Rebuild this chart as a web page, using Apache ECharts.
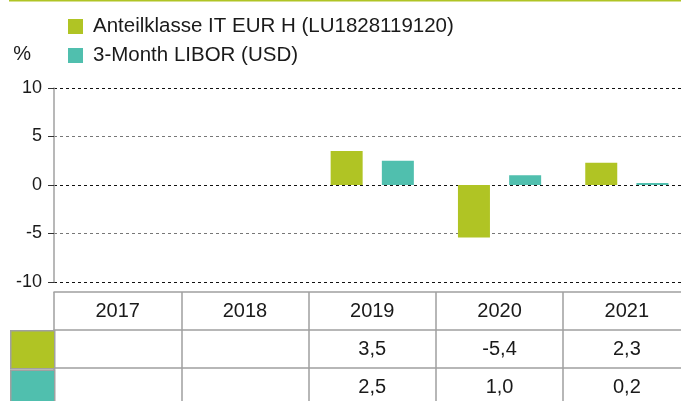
<!DOCTYPE html>
<html>
<head>
<meta charset="utf-8">
<style>
  html, body { margin: 0; padding: 0; background: #fff; }
  #chart { width: 681px; height: 401px; }
</style>
<script src="https://cdn.jsdelivr.net/npm/echarts@6/dist/echarts.min.js"></script>
</head>
<body>
<div id="chart"></div>
<script>
  // data
  const years = ['2017', '2018', '2019', '2020', '2021']
  const fundName = 'Anteilklasse IT EUR H (LU1828119120)'
  const liborName = '3-Month LIBOR (USD)'
  const fundValues = [null, null, 3.5, -5.4, 2.3]
  const liborValues = [null, null, 2.5, 1.0, 0.2]
  const yMin = -10
  const yMax = 10
  const yStep = 5

  const green = '#b0c424'
  const teal = '#50bfae'
  const border = '#a0a0a0'
  const font = 'Liberation Sans, Arial, sans-serif'

  // 3,5 style (german decimal comma)
  function fmt(v) {
    if (v === null || v === undefined) return ''
    return v.toFixed(1).replace('.', ',')
  }

  // one x axis per table row, stacked under the plot
  function rowAxis(offset, labelFn, ticks) {
    return {
      type: 'category',
      data: years,
      position: 'bottom',
      offset: offset,
      axisLine: { show: true, onZero: false, lineStyle: { color: border, width: 1.5 } },
      axisTick: {
        show: ticks,
        alignWithLabel: false,
        interval: 0,
        length: 112,
        lineStyle: { color: border, width: 1.5 }
      },
      axisLabel: {
        interval: 0,
        margin: 9,
        fontSize: 20,
        lineHeight: 20,
        color: '#1a1a1a',
        fontFamily: font,
        formatter: labelFn
      },
      splitLine: { show: false }
    }
  }

  let myChart = echarts.init(document.getElementById('chart'))
  myChart.setOption({
    animation: false,
    textStyle: { fontFamily: font },
    graphic: [{
      type: 'rect',
      left: 9, top: 0,
      shape: { width: 680, height: 1.5 },
      style: { fill: green }
    }],
    legend: [
      {
        // top legend
        data: [fundName, liborName],
        orient: 'vertical',
        left: 68,
        top: 16,
        padding: 0,
        itemWidth: 15,
        itemHeight: 15,
        itemGap: 8,
        icon: 'rect',
        selectedMode: false,
        textStyle: { fontSize: 20.5, lineHeight: 20, color: '#1a1a1a', padding: [0, 0, 0, 5] }
      },
      {
        // colour swatches left of the table rows
        data: [fundName, liborName],
        orient: 'vertical',
        left: 10,
        top: 330,
        height: 90,
        padding: 0,
        itemWidth: 44,
        itemHeight: 38,
        itemGap: 0,
        icon: 'rect',
        selectedMode: false,
        formatter: function () { return '' },
        itemStyle: { borderColor: border, borderWidth: 1.5 }
      }
    ],
    grid: {
      left: 54,
      top: 88,
      width: 636.5,
      bottom: 119,
      outerBoundsMode: 'none',
      containLabel: false
    },
    xAxis: [
      rowAxis(10, function (v) { return v }, true),
      rowAxis(48, function (v, i) { return fmt(fundValues[i]) }, false),
      rowAxis(86, function (v, i) { return fmt(liborValues[i]) }, false)
    ],
    yAxis: {
      type: 'value',
      min: yMin,
      max: yMax,
      interval: yStep,
      name: '%',
      nameLocation: 'end',
      nameGap: 24,
      nameTextStyle: { fontSize: 20, color: '#1a1a1a', align: 'right', padding: [0, 23, 0, 0] },
      axisLine: { show: true, lineStyle: { color: border, width: 1.5 } },
      axisTick: { show: true, length: 6, lineStyle: { color: '#333', width: 1 } },
      axisLabel: { fontSize: 18, color: '#1a1a1a', margin: 12 },
      splitLine: {
        show: true,
        lineStyle: {
          type: [3, 3],
          width: 1,
          color: ['#111', '#777', '#111', '#777', '#111']
        }
      }
    },
    series: [
      {
        name: fundName,
        type: 'bar',
        xAxisIndex: 0,
        data: fundValues,
        barWidth: 32,
        barGap: '60%',
        itemStyle: { color: green }
      },
      {
        name: liborName,
        type: 'bar',
        xAxisIndex: 0,
        data: liborValues,
        barWidth: 32,
        barGap: '60%',
        itemStyle: { color: teal }
      }
    ]
  })
</script>
</body>
</html>
